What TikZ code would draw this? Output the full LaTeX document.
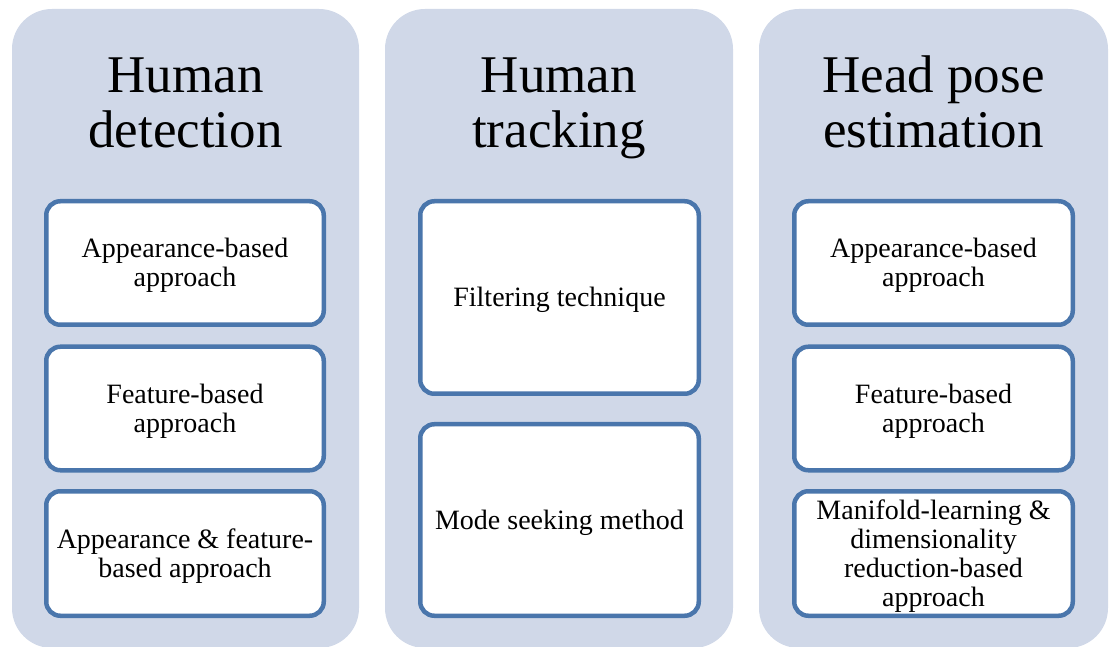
\documentclass[tikz,border=0pt]{standalone}
\usepackage{fontspec}
\setmainfont{Liberation Serif}
\definecolor{colfill}{HTML}{D0D8E8}
\definecolor{boxline}{HTML}{4A76AC}
\tikzset{
  column/.style={fill=colfill, draw=none, rounded corners=40pt},
  coltitle/.style={align=center, anchor=base, font=\fontsize{53}{55}\selectfont, inner sep=0pt},
  inbox/.style={draw=boxline, fill=white, line width=4.5pt, rounded corners=14pt, inner sep=0pt},
  boxtext/.style={align=center, font=\fontsize{28}{29}\selectfont, inner sep=0pt, yshift=-2.5pt},
}
\begin{document}
\begin{tikzpicture}[x=1pt,y=1pt]
\useasboundingbox (0,0) rectangle (1114,646);
% columns
\path[column] (12,637) rectangle (359,-2);
\path[column] (385,637) rectangle (733,-2);
\path[column] (759,637) rectangle (1108,-2);
% titles
\node[coltitle] (t1) at (185.5,498) {Human\\detection};
\node[coltitle] (t2) at (559,498) {Human\\tracking};
\node[coltitle] (t3) at (933.5,498) {Head pose\\estimation};
% column 1
\node[inbox, minimum width=277.5pt, minimum height=123.5pt] (a1) at (185,383) {};
\node[inbox, minimum width=277.5pt, minimum height=123.5pt] (a2) at (185,237.5) {};
\node[inbox, minimum width=277.5pt, minimum height=124.5pt] (a3) at (185,92.5) {};
\node[boxtext] (a1t) at (a1.center) {Appearance-based\\approach};
\node[boxtext] (a2t) at (a2.center) {Feature-based\\approach};
\node[boxtext] (a3t) at (a3.center) {Appearance \& feature-\\based approach};
% column 2
\node[inbox, minimum width=278.5pt, minimum height=192.5pt] (b1) at (559.5,348.5) {};
\node[inbox, minimum width=278.5pt, minimum height=191.5pt] (b2) at (559.5,126) {};
\node[boxtext] (b1t) at (b1.center) {Filtering technique};
\node[boxtext] (b2t) at (b2.center) {Mode seeking method};
% column 3
\node[inbox, minimum width=278.5pt, minimum height=123.5pt] (c1) at (933.5,383) {};
\node[inbox, minimum width=278.5pt, minimum height=123.5pt] (c2) at (933.5,237.5) {};
\node[inbox, minimum width=278.5pt, minimum height=124.5pt] (c3) at (933.5,92.5) {};
\node[boxtext] (c1t) at (c1.center) {Appearance-based\\approach};
\node[boxtext] (c2t) at (c2.center) {Feature-based\\approach};
\node[boxtext] (c3t) at (c3.center) {Manifold-learning \&\\dimensionality\\reduction-based\\approach};
\end{tikzpicture}
\end{document}
